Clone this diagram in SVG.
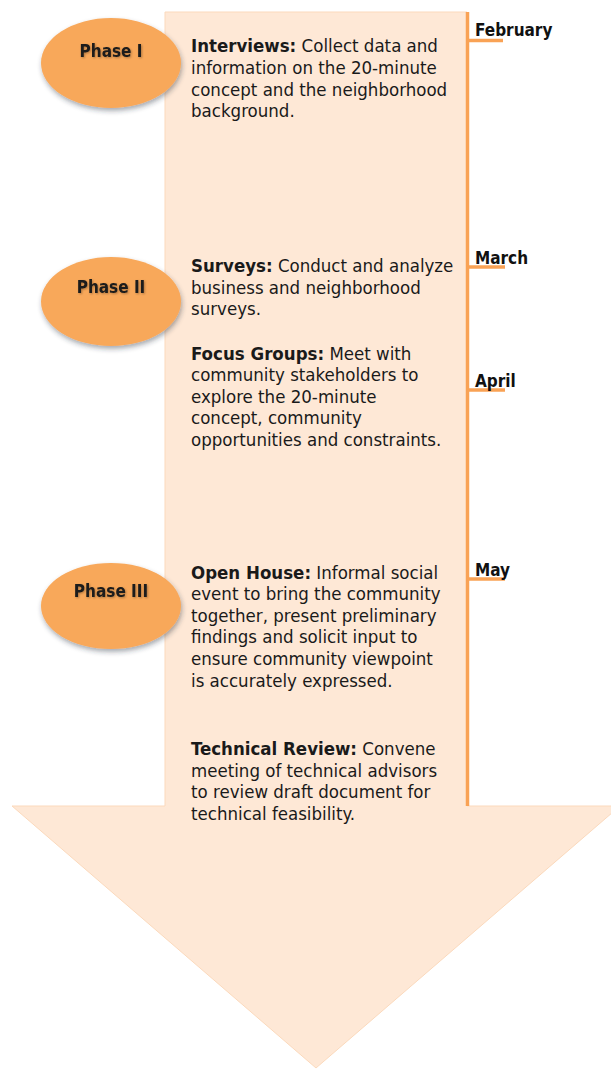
<svg xmlns="http://www.w3.org/2000/svg" width="611" height="1069" viewBox="0 0 611 1069">
<style>
.body{font-family:"DejaVu Sans Condensed","DejaVu Sans",sans-serif;font-size:18.5px;fill:#1a1a1a}
.b{font-weight:bold}
.month{font-family:"DejaVu Sans Condensed","DejaVu Sans",sans-serif;font-size:17px;font-weight:bold;fill:#111}
.phase{font-family:"DejaVu Sans Condensed","DejaVu Sans",sans-serif;font-size:17px;font-weight:bold;fill:#1a1a1a;text-anchor:middle}
.oval{fill:#F8A85A;filter:url(#sh)}
.tick{stroke:#F9A255;stroke-width:3.5}
</style>
<defs>
<filter id="sh" x="-20%" y="-20%" width="150%" height="160%">
<feDropShadow dx="1" dy="3" stdDeviation="2.5" flood-color="#203040" flood-opacity="0.4"/>
</filter>
<filter id="tsh" x="-10%" y="-30%" width="130%" height="160%">
<feDropShadow dx="1" dy="1" stdDeviation="1" flood-color="#000" flood-opacity="0.3"/>
</filter>
</defs>
<rect width="611" height="1069" fill="#fff"/>
<g id="arrow">
<path d="M165,12 H467 V806 H620 L316,1068 L12,806 H165 Z" fill="#FEE8D6" stroke="#FBD9BC" stroke-width="1"/>
</g>
<g id="connectors">
<line class="tick" x1="467.5" y1="12" x2="467.5" y2="806"/>
<line class="tick" x1="467" y1="40.5" x2="503" y2="40.5"/>
<line class="tick" x1="467" y1="267" x2="505" y2="267"/>
<line class="tick" x1="467" y1="390" x2="505" y2="390"/>
<line class="tick" x1="467" y1="579" x2="505" y2="579"/>
</g>
<g id="months">
<text class="month" x="475" y="36">February</text>
<text class="month" x="475" y="264">March</text>
<text class="month" x="475" y="387">April</text>
<text class="month" x="475" y="576">May</text>
</g>
<g id="phase1">
<ellipse class="oval" cx="111" cy="63" rx="70" ry="45"/>
<text class="phase" x="111" y="57" filter="url(#tsh)">Phase I</text>
</g>
<g id="phase2">
<ellipse class="oval" cx="111" cy="301.5" rx="70" ry="44.5"/>
<text class="phase" x="111" y="293" filter="url(#tsh)">Phase II</text>
</g>
<g id="phase3">
<ellipse class="oval" cx="111" cy="606" rx="70" ry="43"/>
<text class="phase" x="111" y="597" filter="url(#tsh)">Phase III</text>
</g>
<g id="interviews">
<text class="body" x="191" y="52"><tspan class="b">Interviews:</tspan> Collect data and</text>
<text class="body" x="191" y="74">information on the 20-minute</text>
<text class="body" x="191" y="95.5">concept and the neighborhood</text>
<text class="body" x="191" y="117">background.</text>
</g>
<g id="surveys">
<text class="body" x="191" y="272"><tspan class="b">Surveys:</tspan> Conduct and analyze</text>
<text class="body" x="191" y="293.5">business and neighborhood</text>
<text class="body" x="191" y="315">surveys.</text>
</g>
<g id="focus">
<text class="body" x="191" y="359.5"><tspan class="b">Focus Groups:</tspan> Meet with</text>
<text class="body" x="191" y="381">community stakeholders to</text>
<text class="body" x="191" y="402.7">explore the 20-minute</text>
<text class="body" x="191" y="424.3">concept, community</text>
<text class="body" x="191" y="446">opportunities and constraints.</text>
</g>
<g id="openhouse">
<text class="body" x="191" y="578.5"><tspan class="b">Open House:</tspan> Informal social</text>
<text class="body" x="191" y="600">event to bring the community</text>
<text class="body" x="191" y="621.7">together, present preliminary</text>
<text class="body" x="191" y="643.3">findings and solicit input to</text>
<text class="body" x="191" y="665">ensure community viewpoint</text>
<text class="body" x="191" y="686.7">is accurately expressed.</text>
</g>
<g id="techreview">
<text class="body" x="191" y="755"><tspan class="b">Technical Review:</tspan> Convene</text>
<text class="body" x="191" y="776.7">meeting of technical advisors</text>
<text class="body" x="191" y="798.3">to review draft document for</text>
<text class="body" x="191" y="820">technical feasibility.</text>
</g>
</svg>
